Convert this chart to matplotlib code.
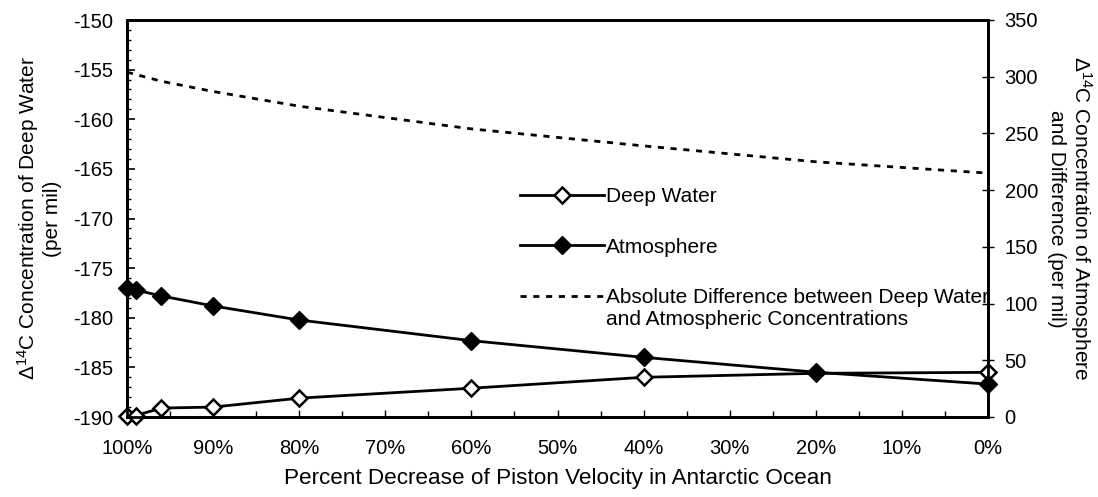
import matplotlib
matplotlib.use("Agg")
import matplotlib.pyplot as plt
from matplotlib.ticker import MultipleLocator, FuncFormatter
from matplotlib.legend_handler import HandlerLine2D

plt.rcParams['font.family'] = ['Liberation Sans', 'DejaVu Sans']
plt.rcParams['mathtext.fontset'] = 'custom'
plt.rcParams['mathtext.rm'] = 'Liberation Sans'
plt.rcParams['mathtext.it'] = 'Liberation Sans:italic'
plt.rcParams['mathtext.bf'] = 'Liberation Sans:bold'
plt.rcParams['axes.unicode_minus'] = False

# Data
percent_decrease = [100, 99, 96, 90, 80, 60, 40, 20, 0]
deep_water = [-189.9, -189.85, -189.1, -189.0, -188.1, -187.1, -186.0, -185.6, -185.5]
atmosphere = [113.8, 112.0, 106.7, 97.9, 85.5, 67.3, 52.6, 39.5, 29.0]
abs_difference = [304, 302, 296, 287, 274, 254, 239, 225, 215]

x_ticks = [100, 90, 80, 70, 60, 50, 40, 30, 20, 10, 0]


class TopAlignedHandler(HandlerLine2D):
    """Place the legend line beside the first line of a two-line label."""
    def __init__(self, shift, **kw):
        super().__init__(**kw)
        self.shift = shift

    def create_artists(self, legend, orig_handle, xdescent, ydescent,
                       width, height, fontsize, trans):
        artists = super().create_artists(legend, orig_handle, xdescent, ydescent,
                                         width, height, fontsize, trans)
        for a in artists:
            a.set_ydata([y + self.shift * fontsize for y in a.get_ydata()])
        return artists


fig = plt.figure(figsize=(10.98, 4.97), dpi=100)
ax = fig.add_axes([127/1098, 1-417/497, (988-127)/1098, (417-20)/497])
ax2 = ax.twinx()

fs = 14.5
lfs = 15

l1, = ax.plot(percent_decrease, deep_water, color='black', lw=2, marker='D',
              markersize=8.5, markerfacecolor='white', markeredgecolor='black',
              markeredgewidth=1.8, label='Deep Water', zorder=5, clip_on=False)
l2, = ax2.plot(percent_decrease, atmosphere, color='black', lw=2, marker='D',
               markersize=9.5, markerfacecolor='black', markeredgecolor='black',
               label='Atmosphere', zorder=5, clip_on=False)
l3, = ax2.plot(percent_decrease, abs_difference, color='black', lw=2,
               dashes=(2.2, 2.4),
               label='Absolute Difference between Deep Water\nand Atmospheric Concentrations')

ax.set_xlim(100, 0)
ax.set_ylim(-190, -150)
ax2.set_ylim(0, 350)

ax.set_xticks(x_ticks)
ax.xaxis.set_minor_locator(MultipleLocator(5))
ax.xaxis.set_major_formatter(FuncFormatter(lambda v, p: f"{int(round(v))}%"))
ax.yaxis.set_major_locator(MultipleLocator(5))
ax.yaxis.set_minor_locator(MultipleLocator(1))
ax2.yaxis.set_major_locator(MultipleLocator(50))

ax.tick_params(axis='x', which='major', direction='in', length=5, width=1, labelsize=fs, pad=16)
ax.tick_params(axis='x', which='minor', direction='in', length=4, width=1)
ax.tick_params(axis='y', which='major', direction='in', length=6, width=1.2, labelsize=fs, pad=10)
ax.tick_params(axis='y', which='minor', direction='in', length=3, width=1)
ax2.tick_params(axis='y', which='major', direction='inout', length=8, width=1, labelsize=fs, pad=8)

for a in (ax, ax2):
    for s in a.spines.values():
        s.set_linewidth(2)
        s.set_color('black')

ax.set_xlabel('Percent Decrease of Piston Velocity in Antarctic Ocean', fontsize=16.2, labelpad=7)
ax.set_ylabel('$\\Delta^{14}$C Concentration of Deep Water\n(per mil)', fontsize=lfs,
              labelpad=8, linespacing=1.15)
ax2.set_ylabel('$\\Delta^{14}$C Concentration of Atmosphere\nand Difference (per mil)', fontsize=lfs,
               rotation=270, labelpad=40, linespacing=1.15)

leg = ax.legend(handles=[l1, l2, l3], loc='upper left',
                bbox_to_anchor=(385/861, (417-179)/397), frameon=False,
                fontsize=lfs, handlelength=4.0, handletextpad=0.1,
                labelspacing=1.5, borderaxespad=0,
                handler_map={l3: TopAlignedHandler(shift=0.62)})

fig.savefig('out.png', dpi=100)
